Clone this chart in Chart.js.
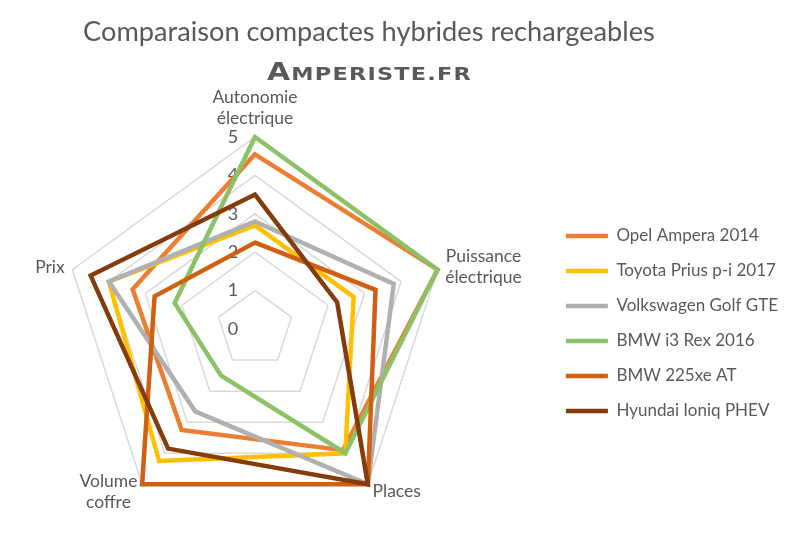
<!DOCTYPE html>
<html>
<head>
<meta charset="utf-8">
<script src="https://cdn.jsdelivr.net/npm/chart.js@4"></script>
<style>
  html, body { margin: 0; padding: 0; background: #fff; overflow: hidden; }
  #frame { width: 800px; height: 539px; overflow: hidden; position: relative; }
  #wrap { width: 800px; height: 550px; position: absolute; left: 0; top: 0; }
</style>
</head>
<body>
<div id="frame"><div id="wrap"><canvas id="myChart"></canvas></div></div>
<script>
const axes = [['Autonomie', 'électrique'], ['Puissance', 'électrique'], 'Places', ['Volume', 'coffre'], 'Prix'];
const cars = ['Opel Ampera 2014', 'Toyota Prius p-i 2017', 'Volkswagen Golf GTE', 'BMW i3 Rex 2016', 'BMW 225xe AT', 'Hyundai Ioniq PHEV'];
const opel = [4.55, 5, 3.9, 3.25, 3.35];
const toyota = [2.7, 2.7, 4, 4.25, 4];
const golf = [2.8, 3.8, 5, 2.65, 4];
const bmwI3 = [5, 5, 4, 1.5, 2.2];
const bmw225 = [2.25, 3.3, 5, 5, 2.75];
const ioniq = [3.5, 2.25, 5, 3.85, 4.5];
const colors = ['#ED7D31', '#FFC000', '#B0B0B0', '#8CC168', '#D0600F', '#843C0C'];

const ctx = document.getElementById('myChart');
const series = [opel, toyota, golf, bmwI3, bmw225, ioniq];

const textColor = '#595959';

// titre + sous-titre dessinés à la main (petites capitales élargies)
const headerPlugin = {
    id: 'header',
    afterDraw(chart) {
        const c = chart.ctx;
        c.save();
        c.fillStyle = textColor;
        c.textBaseline = 'alphabetic';
        c.textAlign = 'center';
        c.font = '27.2px Lato';
        c.fillText('Comparaison compactes hybrides rechargeables', 369, 41);

        c.textAlign = 'left';
        c.letterSpacing = '1px';
        const big = 'bold 24px "DejaVu Sans"';
        const small = 'bold 18px "DejaVu Sans"';
        c.font = big;
        const wA = c.measureText('A').width;
        c.font = small;
        const wRest = c.measureText('MPERISTE.FR').width;
        const sx = 205 / (wA + wRest);
        c.translate(369.5 - 102.5, 80);
        c.scale(sx, 1);
        c.font = big;
        c.fillText('A', 0, 0);
        c.font = small;
        c.fillText('MPERISTE.FR', wA, 0);
        c.restore();
    }
};

// graduations à gauche de l'axe vertical + libellés des axes centrés comme dans Excel
const scaleTextPlugin = {
    id: 'scaleText',
    beforeDatasetsDraw(chart) {
        const scale = chart.scales.r;
        const c = chart.ctx;
        c.save();
        c.fillStyle = textColor;
        c.font = '18px Lato';
        c.textAlign = 'center';
        c.textBaseline = 'middle';
        scale.ticks.forEach(t => {
            const d = scale.getDistanceFromCenterForValue(t.value);
            c.fillText(String(t.value), scale.xCenter - 22, scale.yCenter - d);
        });

        c.font = '17.5px Lato';
        const lh = 21;
        axes.forEach((lab, i) => {
            const lines = Array.isArray(lab) ? lab : [lab];
            const p = scale.getPointPosition(i, scale.drawingArea + 8);
            const dx = p.x - scale.xCenter;
            const dy = p.y - scale.yCenter;
            const bw = Math.max(...lines.map(l => c.measureText(l).width));
            const bh = lines.length * lh;
            let cx = p.x;
            if (dx > 1) cx = p.x + bw / 2;
            else if (dx < -1) cx = p.x - bw / 2;
            let top;
            if (dy < -scale.drawingArea * 0.5) top = p.y - bh;
            else if (dy > 0) top = p.y + 1 - bh / 2;
            else top = p.y - bh / 2;
            lines.forEach((l, k) => c.fillText(l, cx, top + lh * (k + 0.5)));
        });
        c.restore();
    }
};

new Chart(ctx, {
    type: 'radar',
    data: {
        labels: axes,
        datasets: cars.map((name, i) => ({
            label: name,
            data: series[i],
            borderColor: colors[i],
            backgroundColor: colors[i],
            borderWidth: 4.5,
            borderCapStyle: 'round',
            fill: false,
            pointRadius: 0,
            order: cars.length - i
        }))
    },
    options: {
        responsive: true,
        maintainAspectRatio: false,
        animation: false,
        layout: { padding: { top: 62, bottom: 0, left: 2, right: 12 } },
        plugins: {
            legend: {
                position: 'right',
                title: { display: true, text: ' ', padding: 10.2, font: { size: 12 } },
                labels: {
                    usePointStyle: true,
                    pointStyle: 'line',
                    pointStyleWidth: 42,
                    padding: 18,
                    color: textColor,
                    font: { family: 'Lato', size: 17 },
                    sort: (a, b) => a.datasetIndex - b.datasetIndex
                }
            },
            tooltip: { enabled: false }
        },
        scales: {
            r: {
                min: 0,
                max: 5,
                ticks: { stepSize: 1, display: false },
                grid: { color: '#D9D9D9', lineWidth: 1.5 },
                angleLines: { display: false },
                pointLabels: {
                    // gardés pour le calcul de place, dessinés par scaleTextPlugin
                    color: 'rgba(0,0,0,0)',
                    font: { family: 'Lato', size: 17.5 },
                    padding: c => (c.index === 1 ? 1 : 10)
                }
            }
        }
    },
    plugins: [headerPlugin, scaleTextPlugin]
});
</script>
</body>
</html>
